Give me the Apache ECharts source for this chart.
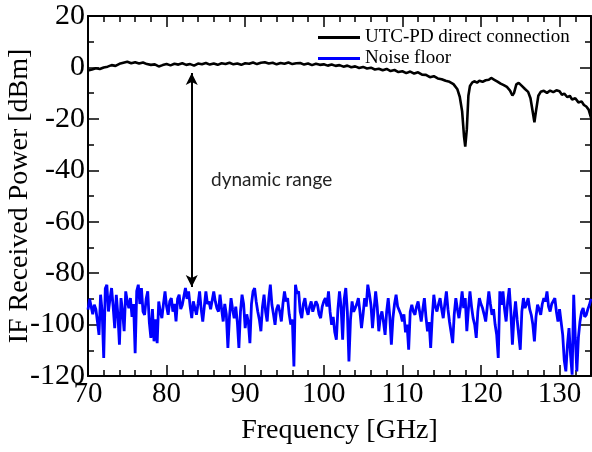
<!DOCTYPE html>
<html>
<head>
<meta charset="utf-8">
<script src="https://cdn.jsdelivr.net/npm/echarts@6/dist/echarts.min.js"></script>
<style>
  html, body { margin: 0; padding: 0; background: #fff; }
  #chart { width: 592px; height: 452px; }
</style>
</head>
<body>
<div id="chart"></div>
<script>
// Frequency response of the UTC-PD direct connection (GHz, dBm)
var responseFreq = [
  70.0, 70.5, 71.0, 71.5, 72.0, 72.5, 73.0, 73.5, 74.0, 74.5,
  75.0, 75.5, 76.0, 76.5, 77.0, 77.5, 78.0, 78.5, 79.0, 79.5,
  80.0, 80.5, 81.0, 81.5, 82.0, 82.5, 83.0, 83.5, 84.0, 84.5,
  85.0, 85.5, 86.0, 86.5, 87.0, 87.5, 88.0, 88.5, 89.0, 89.5,
  90.0, 90.5, 91.0, 91.5, 92.0, 92.5, 93.0, 93.5, 94.0, 94.5,
  95.0, 95.5, 96.0, 96.5, 97.0, 97.5, 98.0, 98.5, 99.0, 99.5,
  100.0, 100.5, 101.0, 101.5, 102.0, 102.5, 103.0, 103.5, 104.0, 104.5,
  105.0, 105.5, 106.0, 106.5, 107.0, 107.5, 108.0, 108.5, 109.0, 109.5,
  110.0, 110.5, 111.0, 111.5, 112.0, 112.5, 113.0, 113.5, 114.0, 114.5,
  115.0, 115.5, 116.0, 116.5, 117.0, 117.3, 117.6, 117.85, 118.0, 118.2,
  118.4, 118.6, 118.9, 119.2, 119.5, 119.8, 120.2, 120.6, 121.0, 121.3,
  121.7, 122.1, 122.5, 122.9, 123.3, 123.7, 124.0, 124.2, 124.5, 124.8,
  125.2, 125.6, 126.0, 126.3, 126.6, 126.8, 127.0, 127.3, 127.6, 128.0,
  128.4, 128.8, 129.2, 129.6, 130.0, 130.3, 130.6, 131.0, 131.3, 131.6,
  132.0, 132.4, 132.8, 133.1, 133.4, 133.7, 134.0
];
var responseDb = [
  -1.2, -0.8, -0.3, -0.6, 0.0, 0.3, 0.9, 0.6, 1.4, 1.8,
  2.2, 1.6, 2.0, 1.5, 1.9, 1.3, 1.0, 1.2, 0.4, 0.9,
  1.3, 0.8, 1.4, 1.1, 1.6, 1.0, 1.3, 0.7, 1.5, 1.2,
  1.7, 1.1, 1.5, 1.0, 1.6, 1.3, 1.8, 1.2, 1.5, 1.0,
  1.6, 1.4, 1.9, 1.3, 1.8, 2.0, 1.5, 1.8, 1.2, 1.7,
  1.4, 1.9, 1.3, 1.6, 1.7, 1.1, 1.5, 0.9, 1.4, 1.0,
  1.2, 0.7, 1.1, 0.6, 0.9, 0.3, 0.7, 0.1, 0.4, -0.2,
  0.2, -0.4, -0.1, -0.8, -0.5, -1.1, -0.6, -1.4, -1.0, -1.8,
  -1.5, -2.2, -1.6, -2.4, -1.9, -2.8, -2.9, -3.8, -3.4, -4.3,
  -4.6, -5.2, -5.6, -6.5, -8.5, -11.4, -17.0, -27.0, -30.8, -24.0,
  -11.0, -7.2, -5.8, -5.4, -5.9, -5.2, -5.6, -5.0, -4.8, -4.1,
  -4.8, -5.5, -6.3, -6.9, -7.6, -9.0, -10.9, -10.0, -6.6, -6.0,
  -7.2, -8.4, -9.5, -12.0, -17.5, -21.3, -17.0, -11.0, -9.5, -9.1,
  -9.9, -9.0, -9.6, -8.9, -9.3, -10.6, -10.2, -11.6, -11.0, -12.5,
  -12.0, -13.6, -13.2, -14.6, -15.2, -16.4, -19.5
];

// Noise floor, sampled every 0.2 GHz from 70 GHz
var noiseStartGHz = 70;
var noiseStepGHz = 0.2;
var noiseDb = [
  -94.2, -90.0, -89.7, -96.0, -92.3,
  -94.0, -98.8, -104.0, -88.4, -95.0,
  -113.0, -86.0, -84.5, -94.9, -90.0,
  -85.8, -93.0, -101.4, -88.4, -96.0,
  -107.8, -89.7, -95.0, -102.6, -87.1,
  -91.0, -93.6, -89.7, -97.0, -92.0,
  -111.1, -87.0, -84.5, -92.0, -85.8,
  -95.0, -96.2, -90.0, -87.1, -99.0,
  -105.2, -94.0, -106.5, -98.0, -107.2,
  -91.0, -95.0, -97.5, -92.0, -87.1,
  -93.0, -96.2, -91.0, -89.7, -95.0,
  -92.0, -98.8, -90.0, -88.4, -94.0,
  -92.3, -89.0, -85.8, -90.0, -87.1,
  -93.0, -97.5, -91.0, -91.0, -96.2,
  -92.0, -87.1, -94.0, -98.8, -93.0,
  -87.1, -92.0, -91.0, -94.0, -93.6,
  -87.1, -91.0, -93.6, -95.0, -88.4,
  -94.0, -98.8, -92.0, -96.0, -109.1,
  -97.0, -89.7, -94.0, -97.5, -93.0,
  -99.0, -109.1, -95.0, -88.4, -92.0,
  -101.4, -96.0, -99.0, -107.2, -92.0,
  -87.1, -85.8, -91.0, -94.9, -98.0,
  -102.6, -93.0, -88.4, -95.0, -98.8,
  -90.0, -84.5, -92.3, -96.0, -100.1,
  -94.0, -92.3, -95.0, -98.8, -92.0,
  -87.1, -91.0, -89.7, -96.0, -100.0,
  -98.0, -116.3, -84.5, -88.0, -87.1,
  -95.0, -97.5, -92.0, -89.7, -94.0,
  -96.2, -93.0, -91.0, -95.0, -94.9,
  -91.0, -92.3, -96.0, -97.5, -93.0,
  -91.0, -89.7, -93.0, -87.1, -95.0,
  -100.1, -97.0, -103.0, -105.9, -94.0,
  -87.1, -93.0, -105.9, -90.0, -85.8,
  -95.0, -114.3, -98.0, -91.0, -95.0,
  -93.6, -92.0, -89.7, -95.0, -101.4,
  -96.0, -89.7, -93.0, -84.5, -88.0,
  -92.3, -101.4, -94.0, -87.1, -93.0,
  -102.6, -97.0, -94.9, -99.0, -104.0,
  -95.0, -89.7, -97.0, -107.8, -97.5,
  -92.0, -88.4, -93.0, -93.6, -96.0,
  -98.8, -96.0, -103.0, -100.0, -109.8,
  -95.0, -92.3, -95.0, -96.2, -93.0,
  -91.0, -95.0, -98.8, -94.0, -89.7,
  -97.0, -102.6, -99.0, -109.1, -97.0,
  -88.4, -93.0, -94.9, -92.0, -89.7,
  -94.0, -97.5, -92.0, -87.1, -94.0,
  -99.0, -103.0, -107.2, -96.0, -89.7,
  -94.0, -97.5, -93.0, -87.1, -93.6,
  -89.7, -102.6, -94.0, -87.1, -93.0,
  -97.5, -100.0, -105.2, -95.0, -89.7,
  -92.0, -93.6, -96.0, -98.8, -93.0,
  -87.1, -92.0, -96.2, -94.0, -100.0,
  -104.0, -113.0, -87.1, -92.3, -87.1,
  -94.0, -98.8, -91.0, -85.8, -95.0,
  -107.8, -97.0, -91.0, -98.0, -104.0,
  -109.8, -95.0, -89.7, -93.6, -92.0,
  -89.7, -94.0, -96.2, -100.0, -106.5,
  -97.0, -92.3, -94.0, -96.2, -92.0,
  -89.7, -91.0, -87.1, -93.0, -94.9,
  -92.0, -91.5, -89.7, -95.0, -98.8,
  -94.0, -93.6, -104.0, -114.0, -118.2,
  -108.0, -101.4, -112.0, -119.5, -88.4,
  -105.0, -118.2, -105.0, -98.8, -95.0,
  -93.6, -97.0, -96.2, -94.0, -92.3,
  -90.0
];

// Tick labels
var xTickLabels = ['70', '80', '90', '100', '110', '120', '130'];
var yTickLabels = ['20', '0', '-20', '-40', '-60', '-80', '-100', '-120'];

// Double-headed arrow marking the dynamic range
var rangeArrowGHz = 83.2;
var rangeArrowTopDb = -2.2;
var rangeArrowBottomDb = -85.4;

var serif = "'Liberation Serif', 'Times New Roman', serif";

var responseData = responseFreq.map(function (f, i) { return [f, responseDb[i]]; });
var noiseData = noiseDb.map(function (v, i) {
  return [+(noiseStartGHz + i * noiseStepGHz).toFixed(2), v];
});

function xAxisBase(position, showLabels, interval, tickLen) {
  return {
    type: 'value', position: position, min: 70, max: 134, interval: interval,
    axisLine: { show: true, onZero: false, lineStyle: { color: '#000', width: 2 } },
    axisTick: { show: true, inside: true, length: tickLen, lineStyle: { color: '#000', width: 1.5 } },
    axisLabel: {
      show: showLabels, margin: 4, fontFamily: serif, fontSize: 29, color: '#000',
      formatter: function (v) {
        var s = String(Math.round(v));
        return (Math.abs(v % 10) < 1e-6 && xTickLabels.indexOf(s) >= 0) ? s : '';
      }
    },
    splitLine: { show: false }
  };
}

function yAxisBase(position, showLabels) {
  return {
    type: 'value', position: position, min: -120, max: 20, interval: 20,
    axisLine: { show: true, onZero: false, lineStyle: { color: '#000', width: 2 } },
    axisTick: { show: true, inside: true, length: 11, lineStyle: { color: '#000', width: 1.5 } },
    minorTick: { show: true, splitNumber: 2, length: 6, lineStyle: { color: '#000', width: 1.5 } },
    axisLabel: {
      show: showLabels, margin: 3, fontFamily: serif, fontSize: 30, color: '#000',
      formatter: function (v) {
        var s = String(Math.round(v));
        return yTickLabels.indexOf(s) >= 0 ? s : '';
      }
    },
    splitLine: { show: false }
  };
}

var xBottom = xAxisBase('bottom', true, 2, 6);
xBottom.name = 'Frequency [GHz]';
xBottom.nameLocation = 'middle';
xBottom.nameGap = 41;
xBottom.nameMoveOverlap = false;
xBottom.nameTextStyle = { fontFamily: serif, fontSize: 28, color: '#000' };

var xBottomMajor = xAxisBase('bottom', false, 10, 11);
xBottomMajor.axisLine.show = false;
var xTop = xAxisBase('top', false, 2, 6);
var xTopMajor = xAxisBase('top', false, 10, 11);
xTopMajor.axisLine.show = false;

var yLeft = yAxisBase('left', true);
yLeft.name = 'IF Received Power [dBm]';
yLeft.nameLocation = 'middle';
yLeft.nameRotate = 90;
yLeft.nameGap = 54;
yLeft.nameMoveOverlap = false;
yLeft.nameTextStyle = { fontFamily: serif, fontSize: 28, color: '#000' };
var yRight = yAxisBase('right', false);

var chart = echarts.init(document.getElementById('chart'), null, { renderer: 'canvas' });
chart.setOption({
  animation: false,
  backgroundColor: '#fff',
  grid: { left: 88, right: 1, top: 16, bottom: 76, containLabel: false, outerBoundsMode: 'none' },
  xAxis: [xBottom, xBottomMajor, xTop, xTopMajor],
  yAxis: [yLeft, yRight],
  legend: {
    orient: 'vertical', left: 313, top: 23,
    itemWidth: 42, itemHeight: 18, itemGap: 2, itemTextGap: 5,
    icon: 'path://M0,0 L42,0 L42,3 L0,3 Z',
    textStyle: { fontFamily: serif, fontSize: 19, color: '#000', lineHeight: 18 },
    data: ['UTC-PD direct connection', 'Noise floor']
  },
  graphic: [{
    type: 'text', left: 211, top: 170,
    style: { text: 'dynamic range', fontFamily: 'Lato, sans-serif', fontSize: 19, fill: '#222' }
  }],
  series: [
    {
      name: 'UTC-PD direct connection', type: 'line', xAxisIndex: 0, yAxisIndex: 0,
      data: responseData, showSymbol: false, symbol: 'none', smooth: false,
      lineStyle: { color: '#000', width: 2.6 }, itemStyle: { color: '#000' },
      markLine: {
        silent: true, symbol: ['arrow', 'arrow'], symbolSize: [9, 12],
        label: { show: false },
        lineStyle: { color: '#000', width: 2, type: 'solid' },
        data: [[
          { coord: [rangeArrowGHz, rangeArrowTopDb] },
          { coord: [rangeArrowGHz, rangeArrowBottomDb] }
        ]]
      },
      z: 3
    },
    {
      name: 'Noise floor', type: 'line', xAxisIndex: 0, yAxisIndex: 0,
      data: noiseData, showSymbol: false, symbol: 'none', clip: true,
      lineStyle: { color: '#0000ff', width: 2.8 }, itemStyle: { color: '#0000ff' },
      z: 2
    }
  ]
});
</script>
</body>
</html>
